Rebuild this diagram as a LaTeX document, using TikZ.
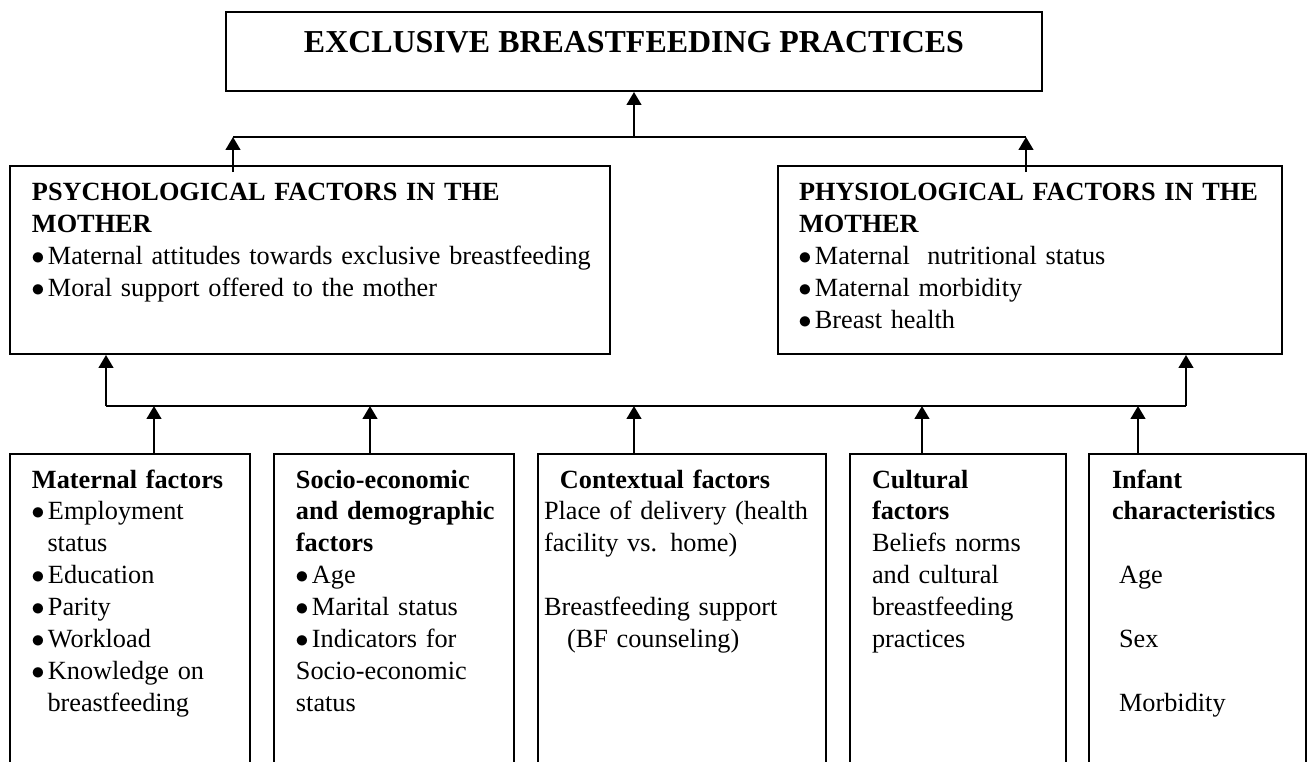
\documentclass[tikz,border=0pt]{standalone}
\usepackage{fontspec}
\setmainfont{Liberation Serif}
\usetikzlibrary{arrows.meta}
\usetikzlibrary{fit}
\newcommand{\bul}{\makebox[7.2pt][l]{\hspace*{-0.3pt}$\bullet$}}
\newcommand{\hang}{\hspace*{7pt}}

\begin{document}
\begin{tikzpicture}[>={Triangle[length=5.8pt,width=6.6pt]},x=0.451pt,y=-0.451pt,line width=0.9pt]
 \tikzstyle{box node}=[rectangle,draw,inner sep=0]
 \tikzstyle{text node}=[anchor=base west,inner sep=0,align=left,text width=10cm,font=\fontsize{11.85}{14.4}\selectfont]
 \tikzstyle{title node}=[anchor=base,inner sep=0,font=\bfseries\fontsize{14.4}{17}\selectfont]

 \useasboundingbox (0,0) rectangle (1311,762);
 \clip (0,0) rectangle (1311,762);

       % boxes
       \node[box node,fit={(226,12) (1042,91)}] (ebf) {};
       \node[box node,fit={(10,166) (610,354)}] (psy) {};
       \node[box node,fit={(778,166) (1282,354)}] (phy) {};
       \node[box node,fit={(10,454) (250,780)}] (mat) {};
       \node[box node,fit={(274,454) (514,780)}] (soc) {};
       \node[box node,fit={(538,454) (826,780)}] (ctx) {};
       \node[box node,fit={(850,454) (1066,780)}] (cul) {};
       \node[box node,fit={(1089,454) (1306,780)}] (inf) {};

       % texts
       \node[title node] (ebft) at (634,53) {EXCLUSIVE BREASTFEEDING PRACTICES};
       \node[text node] (psyt) at (31,201) {\textbf{PSYCHOLOGICAL FACTORS IN THE}\\ \textbf{MOTHER}\\
         \bul Maternal attitudes towards exclusive breastfeeding\\ \bul Moral support offered to the mother};
       \node[text node] (phyt) at (798,201) {\textbf{PHYSIOLOGICAL FACTORS IN THE}\\ \textbf{MOTHER}\\
         \bul Maternal\ \ nutritional status\\ \bul Maternal morbidity\\ \bul Breast health};
       \node[text node] (matt) at (31,488) {\textbf{Maternal factors}\\ \bul Employment\\ \hang status\\
         \bul Education\\ \bul Parity\\ \bul Workload\\ \bul Knowledge on\\ \hang breastfeeding};
       \node[text node] (soct) at (295,488) {\textbf{Socio-economic}\\ \textbf{and demographic}\\ \textbf{factors}\\
         \bul Age\\ \bul Marital status\\ \bul Indicators for\\ Socio-economic\\ status};
       \node[text node] (ctxt) at (543,488) {\hspace*{7.2pt}\textbf{Contextual factors}\\ Place of delivery (health\\
         facility vs. home)\\[14.4pt] Breastfeeding support\\ \hspace*{10.4pt}(BF counseling)};
       \node[text node] (cult) at (871,488) {\textbf{Cultural}\\ \textbf{factors}\\ Beliefs norms\\ and cultural\\
         breastfeeding\\ practices};
       \node[text node] (inft) at (1111,488) {\textbf{Infant}\\ \textbf{characteristics}\\[14.4pt]
         \hspace*{3.2pt}Age\\[14.4pt] \hspace*{3.2pt}Sex\\[14.4pt] \hspace*{3.2pt}Morbidity};

       % joints
       \coordinate (ul) at (233,137);
       \coordinate (uc) at (634,137);
       \coordinate (ur) at (1026,137);
       \coordinate (ll) at (106,406);
       \coordinate (lr) at (1186,406);
       \coordinate (b1) at (154,406);
       \coordinate (b2) at (370,406);
       \coordinate (b3) at (634,406);
       \coordinate (b4) at (922,406);
       \coordinate (b5) at (1138,406);

     \draw (ul) -- (ur);
     \path[->] (uc) edge (ebf);
     \draw[->] (ul |- psy.north) ++(0,7) -- (ul);
     \draw[->] (ur |- phy.north) ++(0,7) -- (ur);

     \draw (ll) -- (lr);
     \path[->] (ll) edge (ll |- psy.south);
     \path[->] (lr) edge (lr |- phy.south);

     \foreach \n/\c in {mat/b1,soc/b2,ctx/b3,cul/b4,inf/b5}
       \path[->] (\n.north -| \c) edge (\c);
\end{tikzpicture}
\end{document}
